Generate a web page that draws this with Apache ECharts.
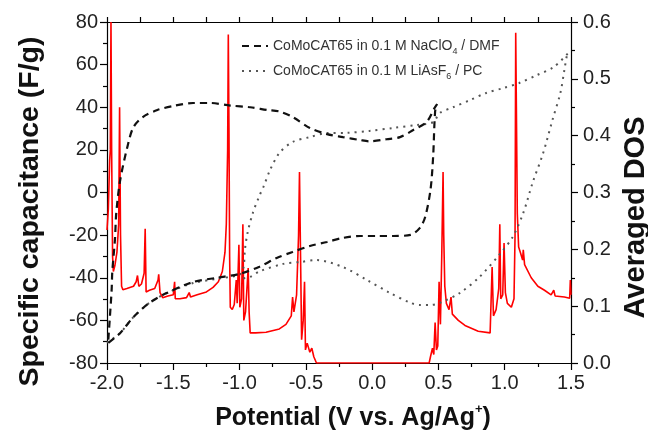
<!DOCTYPE html>
<html><head><meta charset="utf-8">
<script src="https://cdn.jsdelivr.net/npm/echarts@6/dist/echarts.min.js"></script>
<style>html,body{margin:0;padding:0;background:#fff}#c{width:648px;height:441px}</style>
</head><body><div id="c"></div>
<script>
// ---- data ----
const xTicks = [-2.0, -1.5, -1.0, -0.5, 0.0, 0.5, 1.0, 1.5];
const capTicks = [-80, -60, -40, -20, 0, 20, 40, 60, 80];
const dosTicks = [0.0, 0.1, 0.2, 0.3, 0.4, 0.5, 0.6];
const seriesNames = ['CoMoCAT65 in 0.1 M NaClO4 / DMF', 'CoMoCAT65 in 0.1 M LiAsF6 / PC', 'Averaged DOS'];

// NaClO4 / DMF cyclic voltammogram (potential V, capacitance F/g)
const dmfV = [-1.99,-1.98,-1.965,-1.96,-1.94,-1.93,-1.90,-1.84,-1.80,-1.73,-1.62,-1.50,-1.35,-1.22,-1.07,-0.92,-0.79,-0.70,-0.60,-0.47,-0.34,-0.22,-0.09,-0.02,0.11,0.21,0.31,0.41,0.47,0.49,
  0.475,0.46,0.44,0.40,0.36,0.29,0.16,0.04,-0.09,-0.22,-0.34,-0.47,-0.60,-0.72,-0.85,-1.00,-1.17,-1.35,-1.55,-1.68,-1.80,-1.90,-1.99];
const dmfC = [-69,-60,-45.7,-37,-22,-9.6,6,23,30.7,35.4,38.7,40.6,42,42,40.8,40,38.7,38,35.4,30.3,27.4,26,24.6,24,25,26,29.3,33,39.6,41.5,
  38,16.7,1.2,-11.5,-16.6,-19.9,-20.4,-20.4,-20.4,-21.3,-23.2,-25.1,-27.9,-30.7,-34.8,-38.2,-40,-42,-47.2,-51.8,-58.4,-65.9,-70.6];

// LiAsF6 / PC cyclic voltammogram
const pcV = [-2.0,-1.90,-1.80,-1.68,-1.55,-1.35,-1.17,-1.00,-0.97,-0.96,-0.94,-0.90,-0.85,-0.82,-0.77,-0.70,-0.60,-0.47,-0.34,-0.19,-0.02,0.16,0.34,0.46,0.51,0.61,0.74,0.86,0.99,1.11,1.24,1.37,1.48,
  1.47,1.45,1.42,1.36,1.29,1.21,1.14,1.06,0.97,0.81,0.66,0.51,0.44,0.36,0.29,0.13,-0.04,-0.22,-0.42,-0.54,-0.67,-0.85,-0.92,-1.00];
const pcC = [-70.5,-65.9,-58.4,-51.8,-47.2,-42.5,-40.5,-38.5,-35,-27,-19,-9.6,-1.5,2.6,10.6,18.5,23.7,26,27.9,28,28.9,30.3,31.7,33,37.3,40,43.4,46.7,49,51.4,55,58.9,65.5,
  64.5,57.5,46.7,34,18.5,4.5,-9.6,-20.9,-28.4,-39.6,-47.2,-51.8,-52.8,-52.8,-51.8,-47,-41,-35,-31.7,-32.6,-33.5,-37,-39.6,-40.5];

// Averaged density of states (potential V, DOS)
const dosV = [-2.000,-1.990,-1.980,-1.975,-1.970,-1.965,-1.958,-1.952,-1.940,-1.925,-1.912,-1.905,-1.898,-1.890,-1.880,-1.850,-1.800,-1.780,-1.770,-1.760,-1.740,-1.720,-1.712,-1.705,-1.680,-1.640,-1.615,-1.610,-1.600,-1.580,-1.540,-1.500,-1.490,-1.485,-1.450,-1.400,-1.380,-1.370,-1.320,-1.250,-1.200,-1.160,-1.130,-1.110,-1.100,-1.090,-1.085,-1.080,-1.075,-1.070,-1.055,-1.040,-1.025,-1.018,-1.005,-0.998,-0.985,-0.975,-0.968,-0.955,-0.935,-0.928,-0.920,-0.880,-0.800,-0.700,-0.650,-0.610,-0.600,-0.590,-0.570,-0.555,-0.548,-0.540,-0.532,-0.520,-0.510,-0.503,-0.490,-0.470,-0.455,-0.440,-0.420,
  0.430,0.440,0.455,0.465,0.475,0.485,0.495,0.505,0.515,0.525,0.535,0.540,0.548,0.560,0.580,0.595,0.605,0.650,0.700,0.800,0.890,0.905,0.915,0.935,0.955,0.963,0.970,0.985,0.995,1.005,1.020,1.050,1.070,1.078,1.083,1.088,1.095,1.105,1.120,1.135,1.140,1.150,1.200,1.250,1.300,1.350,1.370,1.380,1.450,1.490,1.495,1.500];
const dosY = [0.234,0.270,0.356,0.375,0.600,0.375,0.188,0.161,0.172,0.195,0.244,0.450,0.225,0.135,0.129,0.131,0.135,0.143,0.154,0.135,0.139,0.158,0.236,0.125,0.128,0.131,0.146,0.156,0.124,0.115,0.118,0.120,0.143,0.113,0.113,0.115,0.124,0.116,0.120,0.125,0.133,0.143,0.161,0.195,0.244,0.375,0.578,0.413,0.188,0.098,0.094,0.103,0.146,0.105,0.208,0.098,0.113,0.244,0.075,0.090,0.167,0.090,0.053,0.053,0.054,0.060,0.068,0.083,0.116,0.090,0.120,0.225,0.336,0.188,0.041,0.075,0.143,0.023,0.035,0.019,0.026,0.011,0.000,
  0.000,0.011,0.026,0.015,0.071,0.023,0.030,0.143,0.068,0.188,0.336,0.225,0.135,0.105,0.094,0.116,0.086,0.075,0.066,0.056,0.053,0.169,0.083,0.094,0.131,0.244,0.113,0.120,0.211,0.124,0.105,0.098,0.113,0.225,0.581,0.450,0.263,0.204,0.193,0.181,0.199,0.173,0.150,0.135,0.128,0.120,0.128,0.118,0.116,0.114,0.146,0.120];

const zip = (a, b) => a.map((v, i) => [v, b[i]]);
const FONT = "'Liberation Sans', Arial, sans-serif";

const chart = echarts.init(document.getElementById('c'), null, {renderer: 'canvas'});
const axisLine = {show: true, onZero: false, lineStyle: {color: '#000', width: 1.2}};
chart.setOption({
  animation: false,
  backgroundColor: '#fff',
  grid: {left: 107, right: 77, top: 22, bottom: 78, containLabel: false, outerBoundsMode: 'none'},
  legend: {
    data: [seriesNames[0], seriesNames[1]],
    orient: 'vertical', left: 236, top: 34,
    itemWidth: 26, itemHeight: 14, itemGap: 8,
    itemStyle: {opacity: 0},
    textStyle: {fontFamily: FONT, fontSize: 14, color: '#333',
      rich: {
        a: {fontFamily: FONT, fontSize: 14, color: '#333', lineHeight: 20},
        s: {fontFamily: FONT, fontSize: 9, color: '#333', lineHeight: 9, verticalAlign: 'bottom'}
      }},
    formatter: function (n) {
      if (n === seriesNames[0]) return '{a|CoMoCAT65 in 0.1 M NaClO}{s|4}{a| / DMF}';
      return '{a|CoMoCAT65 in 0.1 M LiAsF}{s|6}{a| / PC}';
    }
  },
  xAxis: [{
    type: 'value', position: 'bottom', min: xTicks[0], max: xTicks[xTicks.length - 1], interval: 0.5,
    axisLine: axisLine,
    axisTick: {show: true, inside: false, length: 7, lineStyle: {color: '#000', width: 1.2}},
    minorTick: {show: true, splitNumber: 2, length: 4, lineStyle: {color: '#000', width: 1.2}},
    splitLine: {show: false},
    axisLabel: {fontFamily: FONT, fontSize: 20, color: '#222', margin: 10, formatter: v => v.toFixed(1)},
    name: '{t|Potential (V vs. Ag/Ag}{p|+}{t|)}', nameLocation: 'middle', nameGap: 40,
    nameTextStyle: {padding: [0, 0, 0, 28], rich: {
      t: {fontFamily: FONT, fontSize: 25, fontWeight: 'bold', color: '#111', lineHeight: 30},
      p: {fontFamily: FONT, fontSize: 13, fontWeight: 'bold', color: '#111', lineHeight: 14, verticalAlign: 'top'}
    }}
  }, {
    type: 'value', position: 'top', min: xTicks[0], max: xTicks[xTicks.length - 1], interval: 0.25,
    axisLine: axisLine,
    axisTick: {show: true, inside: false, length: 5, lineStyle: {color: '#000', width: 1.2}},
    axisLabel: {show: false}, splitLine: {show: false}
  }],
  yAxis: [{
    type: 'value', position: 'left', min: capTicks[0], max: capTicks[capTicks.length - 1], interval: 20,
    axisLine: axisLine,
    axisTick: {show: true, inside: false, length: 7, lineStyle: {color: '#000', width: 1.2}},
    minorTick: {show: true, splitNumber: 2, length: 4, lineStyle: {color: '#000', width: 1.2}},
    splitLine: {show: false},
    axisLabel: {fontFamily: FONT, fontSize: 20, color: '#222', margin: 9},
    name: 'Specific capacitance (F/g)', nameLocation: 'middle', nameGap: 62, nameRotate: 90,
    nameTextStyle: {fontFamily: FONT, fontSize: 28.5, fontWeight: 'bold', color: '#111', padding: [0, 38, 0, 0]}
  }, {
    type: 'value', position: 'right', min: dosTicks[0], max: dosTicks[dosTicks.length - 1], interval: 0.1,
    axisLine: axisLine,
    axisTick: {show: true, inside: false, length: 7, lineStyle: {color: '#000', width: 1.2}},
    minorTick: {show: true, splitNumber: 2, length: 4, lineStyle: {color: '#000', width: 1.2}},
    splitLine: {show: false},
    axisLabel: {fontFamily: FONT, fontSize: 20, color: '#222', margin: 12, formatter: v => v.toFixed(1)},
    name: 'Averaged DOS', nameLocation: 'middle', nameGap: 48, nameRotate: 90,
    nameTextStyle: {fontFamily: FONT, fontSize: 29, fontWeight: 'bold', color: '#111', padding: [0, 50, 0, 0]}
  }],
  series: [{
    name: seriesNames[2], type: 'line', xAxisIndex: 0, yAxisIndex: 1,
    data: zip(dosV, dosY), symbol: 'none', z: 1,
    lineStyle: {color: '#ff0000', width: 1.6}
  }, {
    name: seriesNames[0], type: 'line', xAxisIndex: 0, yAxisIndex: 0,
    data: zip(dmfV, dmfC), symbol: 'none', smooth: 0.3, z: 3,
    itemStyle: {color: '#111'},
    lineStyle: {color: '#111', width: 2.2, type: [7, 5]}
  }, {
    name: seriesNames[1], type: 'line', xAxisIndex: 0, yAxisIndex: 0,
    data: zip(pcV, pcC), symbol: 'none', smooth: 0.3, z: 2,
    itemStyle: {color: '#555'},
    lineStyle: {color: '#555', width: 2, type: [2, 5]}
  }]
});
</script></body></html>
